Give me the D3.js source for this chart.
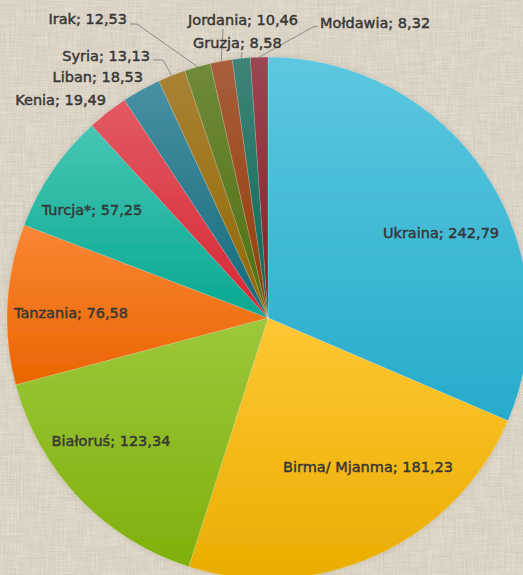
<!DOCTYPE html>
<html>
<head>
<meta charset="utf-8">
<script src="https://cdn.jsdelivr.net/npm/d3@7"></script>
<style>
  html, body { margin: 0; padding: 0; background: #dbd3c4; }
  svg { display: block; }
</style>
</head>
<body>
<div id="chart"></div>
<script>
// ---- data ----
const countries = ["Ukraina", "Birma/ Mjanma", "Białoruś", "Tanzania", "Turcja*", "Kenia", "Liban", "Syria", "Irak", "Jordania", "Gruzja", "Mołdawia"];
const values = [242.79, 181.23, 123.34, 76.58, 57.25, 19.49, 18.53, 13.13, 12.53, 10.46, 8.58, 8.32];
const valueLabels = ["242,79", "181,23", "123,34", "76,58", "57,25", "19,49", "18,53", "13,13", "12,53", "10,46", "8,58", "8,32"];

// ---- styles ----
const topColors = ["#5cc8e0", "#ffc733", "#9dc73c", "#fa8636", "#46c6b3", "#e35a63", "#4890a4", "#a98236", "#6f8b3b", "#a85e3c", "#408477", "#9a4752"];
const bottomColors = ["#27abcb", "#e9ad00", "#80b00c", "#ea6500", "#07a892", "#d42733", "#136a7a", "#916800", "#506e0e", "#933c06", "#096857", "#831f29"];

// ---- layout ----
const W = 523, H = 575;
const cx = 268, cy = 318, R = 261;
// label placements as offsets from pie centre (in units of R/261), with text anchor
const labelLayout = [
  { dx: 173, dy: -85, anchor: "middle" },
  { dx: 100, dy: 149, anchor: "middle" },
  { dx: -157, dy: 123, anchor: "middle" },
  { dx: -197, dy: -5, anchor: "middle" },
  { dx: -176, dy: -108, anchor: "middle" },
  { dx: -162, dy: -218, anchor: "end" },
  { dx: -125, dy: -241, anchor: "end" },
  { dx: -118, dy: -262, anchor: "end" },
  { dx: -141, dy: -299, anchor: "end" },
  { dx: -80, dy: -298, anchor: "start" },
  { dx: -75, dy: -275, anchor: "start" },
  { dx: 52, dy: -295, anchor: "start" }
];
// leader lines: points (offsets from centre) from label towards the slice edge
const leaderLayout = [
  null, null, null, null, null, null, null,
  [[-115, -258], [-105, -258]],
  [[-138, -294], [-131, -294]],
  [[-45, -289]],
  [[-26, -266]],
  [[50, -292], [45, -291]]
];

const svg = d3.select("#chart").append("svg")
  .attr("width", W).attr("height", H);

const defs = svg.append("defs");

// linen texture
const f = defs.append("filter").attr("id", "linen")
  .attr("x", 0).attr("y", 0).attr("width", "100%").attr("height", "100%")
  .attr("filterUnits", "userSpaceOnUse");
f.append("feTurbulence").attr("type", "fractalNoise").attr("baseFrequency", "0.9 0.035")
  .attr("numOctaves", 2).attr("seed", 3).attr("result", "v");
f.append("feTurbulence").attr("type", "fractalNoise").attr("baseFrequency", "0.035 0.9")
  .attr("numOctaves", 2).attr("seed", 11).attr("result", "h");
f.append("feComposite").attr("in", "v").attr("in2", "h").attr("operator", "arithmetic")
  .attr("k2", 0.5).attr("k3", 0.5).attr("result", "n");
f.append("feColorMatrix").attr("in", "n").attr("type", "matrix")
  .attr("values", "0 0 0 0 0.55  0 0 0 0 0.50  0 0 0 0 0.42  2.2 0 0 0 -0.95");

const f2 = defs.append("filter").attr("id", "linenLight")
  .attr("x", 0).attr("y", 0).attr("width", "100%").attr("height", "100%")
  .attr("filterUnits", "userSpaceOnUse");
f2.append("feTurbulence").attr("type", "fractalNoise").attr("baseFrequency", "0.8 0.04")
  .attr("numOctaves", 2).attr("seed", 21).attr("result", "v");
f2.append("feTurbulence").attr("type", "fractalNoise").attr("baseFrequency", "0.04 0.8")
  .attr("numOctaves", 2).attr("seed", 29).attr("result", "h");
f2.append("feComposite").attr("in", "v").attr("in2", "h").attr("operator", "arithmetic")
  .attr("k2", 0.5).attr("k3", 0.5).attr("result", "n");
f2.append("feColorMatrix").attr("in", "n").attr("type", "matrix")
  .attr("values", "0 0 0 0 0.95  0 0 0 0 0.93  0 0 0 0 0.88  -2.2 0 0 0 1.25");

// shadow for pie
const sh = defs.append("filter").attr("id", "shadow")
  .attr("x", "-10%").attr("y", "-10%").attr("width", "120%").attr("height", "120%");
sh.append("feDropShadow").attr("dx", 0).attr("dy", 0).attr("stdDeviation", 2)
  .attr("flood-color", "#6b5f4a").attr("flood-opacity", 0.25);

// gradients
countries.forEach((c, i) => {
  const g = defs.append("linearGradient").attr("id", "grad" + i)
    .attr("x1", 0).attr("y1", 0).attr("x2", 0).attr("y2", 1);
  g.append("stop").attr("offset", "0%").attr("stop-color", topColors[i]);
  g.append("stop").attr("offset", "100%").attr("stop-color", bottomColors[i]);
});

// background
svg.append("rect").attr("width", W).attr("height", H).attr("fill", "#dbd3c4");
svg.append("rect").attr("width", W).attr("height", H).attr("filter", "url(#linen)").attr("opacity", 0.65);
svg.append("rect").attr("width", W).attr("height", H).attr("filter", "url(#linenLight)").attr("opacity", 0.5);

const data = countries.map((c, i) => ({ name: c, value: values[i], label: valueLabels[i], i }));

const pie = d3.pie().value(d => d.value).sort(null);
const arcs = pie(data);
const arc = d3.arc().innerRadius(0).outerRadius(R);

const g = svg.append("g").attr("transform", `translate(${cx},${cy})`);

g.append("g").attr("filter", "url(#shadow)")
  .selectAll("path").data(arcs).enter().append("path")
  .attr("d", arc)
  .attr("fill", d => `url(#grad${d.data.i})`)
  .attr("stroke", "rgba(255,255,255,0.25)")
  .attr("stroke-width", 0.7)
  .attr("stroke-linejoin", "round");

// leader lines
const s = R / 261;
arcs.forEach(d => {
  const pts = leaderLayout[d.data.i];
  if (!pts) return;
  const mid = (d.startAngle + d.endAngle) / 2;
  const edge = [R * Math.sin(mid), -R * Math.cos(mid)];
  const all = pts.map(p => [p[0] * s, p[1] * s]).concat([edge]);
  g.append("path")
    .attr("d", d3.line()(all))
    .attr("fill", "none")
    .attr("stroke", "#8c8c8c")
    .attr("stroke-width", 1);
});

// labels
g.selectAll("text.lbl").data(arcs).enter().append("text")
  .attr("class", "lbl")
  .attr("x", d => labelLayout[d.data.i].dx * s)
  .attr("y", d => labelLayout[d.data.i].dy * s)
  .attr("text-anchor", d => labelLayout[d.data.i].anchor)
  .attr("dominant-baseline", "central")
  .attr("font-family", "'DejaVu Sans', sans-serif")
  .attr("font-size", "14.5px")
  .attr("fill", "#363636")
  .attr("stroke", "#363636")
  .attr("stroke-width", 0.45)
  .text(d => `${d.data.name}; ${d.data.label}`);
</script>
</body>
</html>
